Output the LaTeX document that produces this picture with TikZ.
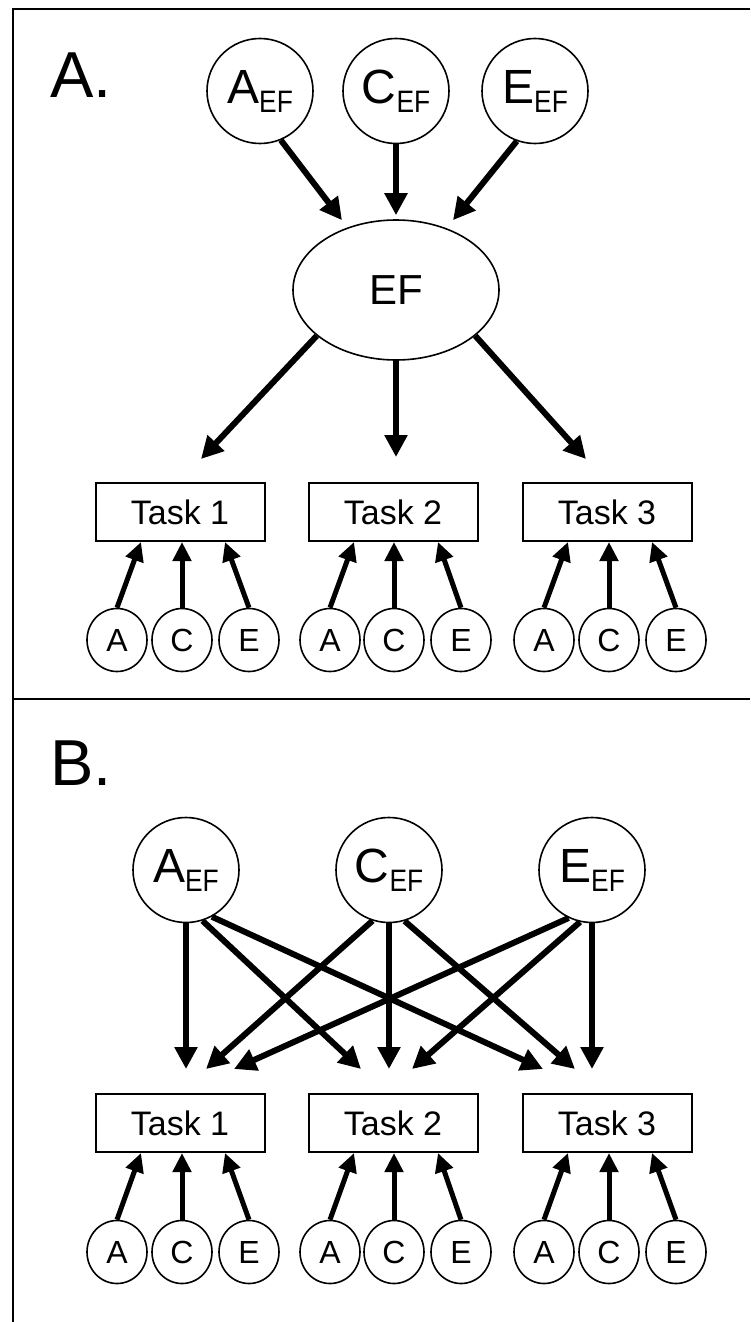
\documentclass[tikz,border=0pt]{standalone}
\usepackage{fontspec}
\setmainfont{Liberation Sans}
\usetikzlibrary{arrows.meta,calc,shapes.geometric}
\newcommand\eflabel[1]{#1\raisebox{-9pt}{\scalebox{0.85}[1]{\fontsize{31}{31}\selectfont EF}}}
\begin{document}
\begin{tikzpicture}[x=1pt,y=-1pt,
  lat/.style={draw, ellipse, line width=1.6pt, inner sep=0pt,
    minimum width=106pt, minimum height=105pt, font=\fontsize{48}{48}\selectfont},
  factor/.style={draw, ellipse, line width=1.6pt, inner sep=0pt,
    minimum width=206pt, minimum height=140pt, font=\fontsize{42}{42}\selectfont},
  small/.style={draw, ellipse, line width=1.6pt, inner sep=0pt,
    minimum width=60pt, minimum height=63pt, font=\fontsize{32}{32}\selectfont},
  task/.style={draw, rectangle, line width=2pt, inner sep=0pt,
    minimum width=169pt, minimum height=58pt, font=\fontsize{34}{34}\selectfont},
  arr/.style={line width=6pt, -{Triangle[length=22pt,width=22pt]}},
  sarr/.style={line width=5pt, -{Triangle[length=19pt,width=18pt]}},
  panel/.style={font=\fontsize{65}{65}\selectfont, anchor=base west, inner sep=0pt},
  frame/.style={line width=2pt},
]
\useasboundingbox (0,0) rectangle (750,1322);

% panel frame and divider
\coordinate (ftl) at (13,9.5);
\coordinate (ftr) at (750,9.5);
\coordinate (fbl) at (13,1322);
\coordinate (dl) at (13,699);
\coordinate (dr) at (750,699);
\draw[frame] (fbl) -- (ftl) -- (ftr);
\draw[frame] (dl) -- (dr);

% ---------- Panel A: common factor model ----------
\node[panel] (labA) at (50,97) {A.};
\node[lat] (aA) at (260,91) {\eflabel{A}};
\node[lat] (aC) at (396,91) {\eflabel{C}};
\node[lat] (aE) at (535,91) {\eflabel{E}};
\node[factor] (EF) at (396,290) {EF};

\draw[arr] (aA.-67) -- ($(EF.north)+(-54,1)$);
\draw[arr] (aC.south) -- ($(EF.north)+(0,-4)$);
\draw[arr] (aE.-110) -- ($(EF.north)+(57,1)$);

\foreach \i/\x/\a/\c/\e in {1/180/117/182/249, 2/393/330/394/461, 3/607/544/609/676}{
  \node[task] (aT\i) at (\x,512) {Task \i};
  \node[small] (aa\i) at (\a,640) {A};
  \node[small] (ac\i) at (\c,640) {C};
  \node[small] (ae\i) at (\e,640) {E};
  \draw[sarr] (aa\i.north) -- ($(aT\i.south)+(-39,0)$);
  \draw[sarr] (ac\i.north) -- (ac\i |- aT\i.south);
  \draw[sarr] (ae\i.north) -- ($(aT\i.south)+(45,0)$);
}

\draw[arr] (EF.-150) -- ($(aT1.north)+(21,-23)$);
\draw[arr] (EF.south) -- ($(aT2.north)+(3,-25)$);
\draw[arr] (EF.-30) -- ($(aT3.north)+(-21,-23)$);

% ---------- Panel B: independent pathways model ----------
\node[panel] (labB) at (50,785) {B.};
\node[lat] (bA) at (186,870) {\eflabel{A}};
\node[lat] (bC) at (389,870) {\eflabel{C}};
\node[lat] (bE) at (592,870) {\eflabel{E}};

\foreach \i/\x/\a/\c/\e in {1/180/117/182/249, 2/393/330/394/461, 3/607/544/609/676}{
  \node[task] (bT\i) at (\x,1123) {Task \i};
  \node[small] (ba\i) at (\a,1252) {A};
  \node[small] (bc\i) at (\c,1252) {C};
  \node[small] (be\i) at (\e,1252) {E};
  \draw[sarr] (ba\i.north) -- ($(bT\i.south)+(-39,0)$);
  \draw[sarr] (bc\i.north) -- (bc\i |- bT\i.south);
  \draw[sarr] (be\i.north) -- ($(bT\i.south)+(45,0)$);
}

\draw[arr] (bA.-90)  -- ($(bT1.north)+(6,-24)$);
\draw[arr] (bA.-72)  -- ($(bT2.north)+(-32,-24)$);
\draw[arr] (bA.-61)  -- ($(bT3.north)+(-64,-24)$);
\draw[arr] (bC.-108) -- ($(bT1.north)+(26,-24)$);
\draw[arr] (bC.-90)  -- ($(bT2.north)+(-4,-24)$);
\draw[arr] (bC.-73)  -- ($(bT3.north)+(-32,-24)$);
\draw[arr] (bE.-116) -- ($(bT1.north)+(54,-24)$);
\draw[arr] (bE.-103) -- ($(bT2.north)+(19,-24)$);
\draw[arr] (bE.-90)  -- ($(bT3.north)+(-15,-24)$);
\end{tikzpicture}
\end{document}
